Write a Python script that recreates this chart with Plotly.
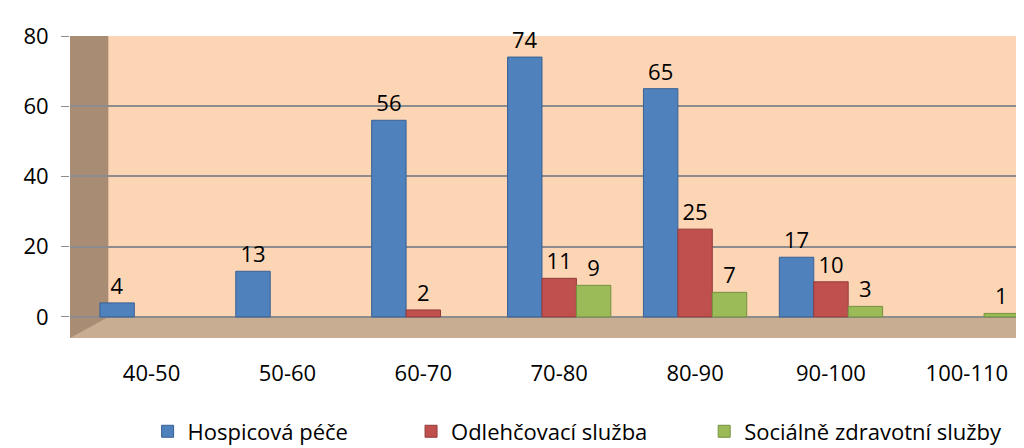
import plotly.graph_objects as go

categories = ["40-50", "50-60", "60-70", "70-80", "80-90", "90-100", "100-110"]
hospic = [4, 13, 56, 74, 65, 17, 0]
odlehc = [0, 0, 2, 11, 25, 10, 0]
social = [0, 0, 0, 9, 7, 3, 1]
series_names = ["Hospicová péče", "Odlehčovací služba", "Sociálně zdravotní služby"]
series_colors = ["#4F81BD", "#C0504D", "#9BBB59"]
line_colors = ["#3A6194", "#933C3A", "#76913F"]
y_ticks = [0, 20, 40, 60, 80]

FONT = "Open Sans"
legend_ids = ["legend", "legend2", "legend3"]
legend_x = [0.081, 0.356, 0.662]

fig = go.Figure()
for name, vals, col, lc, lid in zip(series_names, [hospic, odlehc, social], series_colors, line_colors, legend_ids):
    fig.add_trace(go.Bar(
        x=categories, y=[v if v else None for v in vals], name=name,
        marker=dict(color=col, line=dict(color=lc, width=1)),
        text=[str(v) if v else "" for v in vals],
        textposition="outside", cliponaxis=False,
        textfont=dict(family=FONT, size=22, color="black"),
        legend=lid,
    ))

# decorative walls / floor
fig.add_shape(type="rect", xref="x domain", yref="y", x0=0, x1=1, y0=-6, y1=0,
              fillcolor="#C9AD93", line=dict(width=0), layer="below")
fig.add_shape(type="path", xref="x domain", yref="y",
              path="M 0,-6 L 0.04,0 L 0.04,80 L 0,80 Z",
              fillcolor="#A88C74", line=dict(width=0), layer="below")

legend_style = dict(orientation="h", xanchor="left", y=-0.24, yanchor="top",
                    font=dict(family=FONT, size=22), itemwidth=30, bgcolor="rgba(0,0,0,0)")

fig.update_layout(
    width=1024, height=448,
    margin=dict(l=62, r=4, t=28, b=96),
    paper_bgcolor="white", plot_bgcolor="#FCD5B4",
    barmode="group", bargap=0.24, bargroupgap=0.0,
    font=dict(family=FONT, size=22, color="black"),
    showlegend=True,
    legend=dict(x=legend_x[0], **legend_style),
    legend2=dict(x=legend_x[1], **legend_style),
    legend3=dict(x=legend_x[2], **legend_style),
    xaxis=dict(range=[-0.6, 6.45], showgrid=False, ticks="", showline=False,
               tickfont=dict(family=FONT, size=22), ticklabelstandoff=20),
    yaxis=dict(range=[-6, 80], tickvals=y_ticks, showgrid=True, gridcolor="#8C8C8C",
               gridwidth=2, zeroline=False, ticks="outside", ticklen=8, tickcolor="#8C8C8C",
               tickfont=dict(family=FONT, size=22), showline=False, ticklabelstandoff=8),
)
fig.write_html("out.html")
